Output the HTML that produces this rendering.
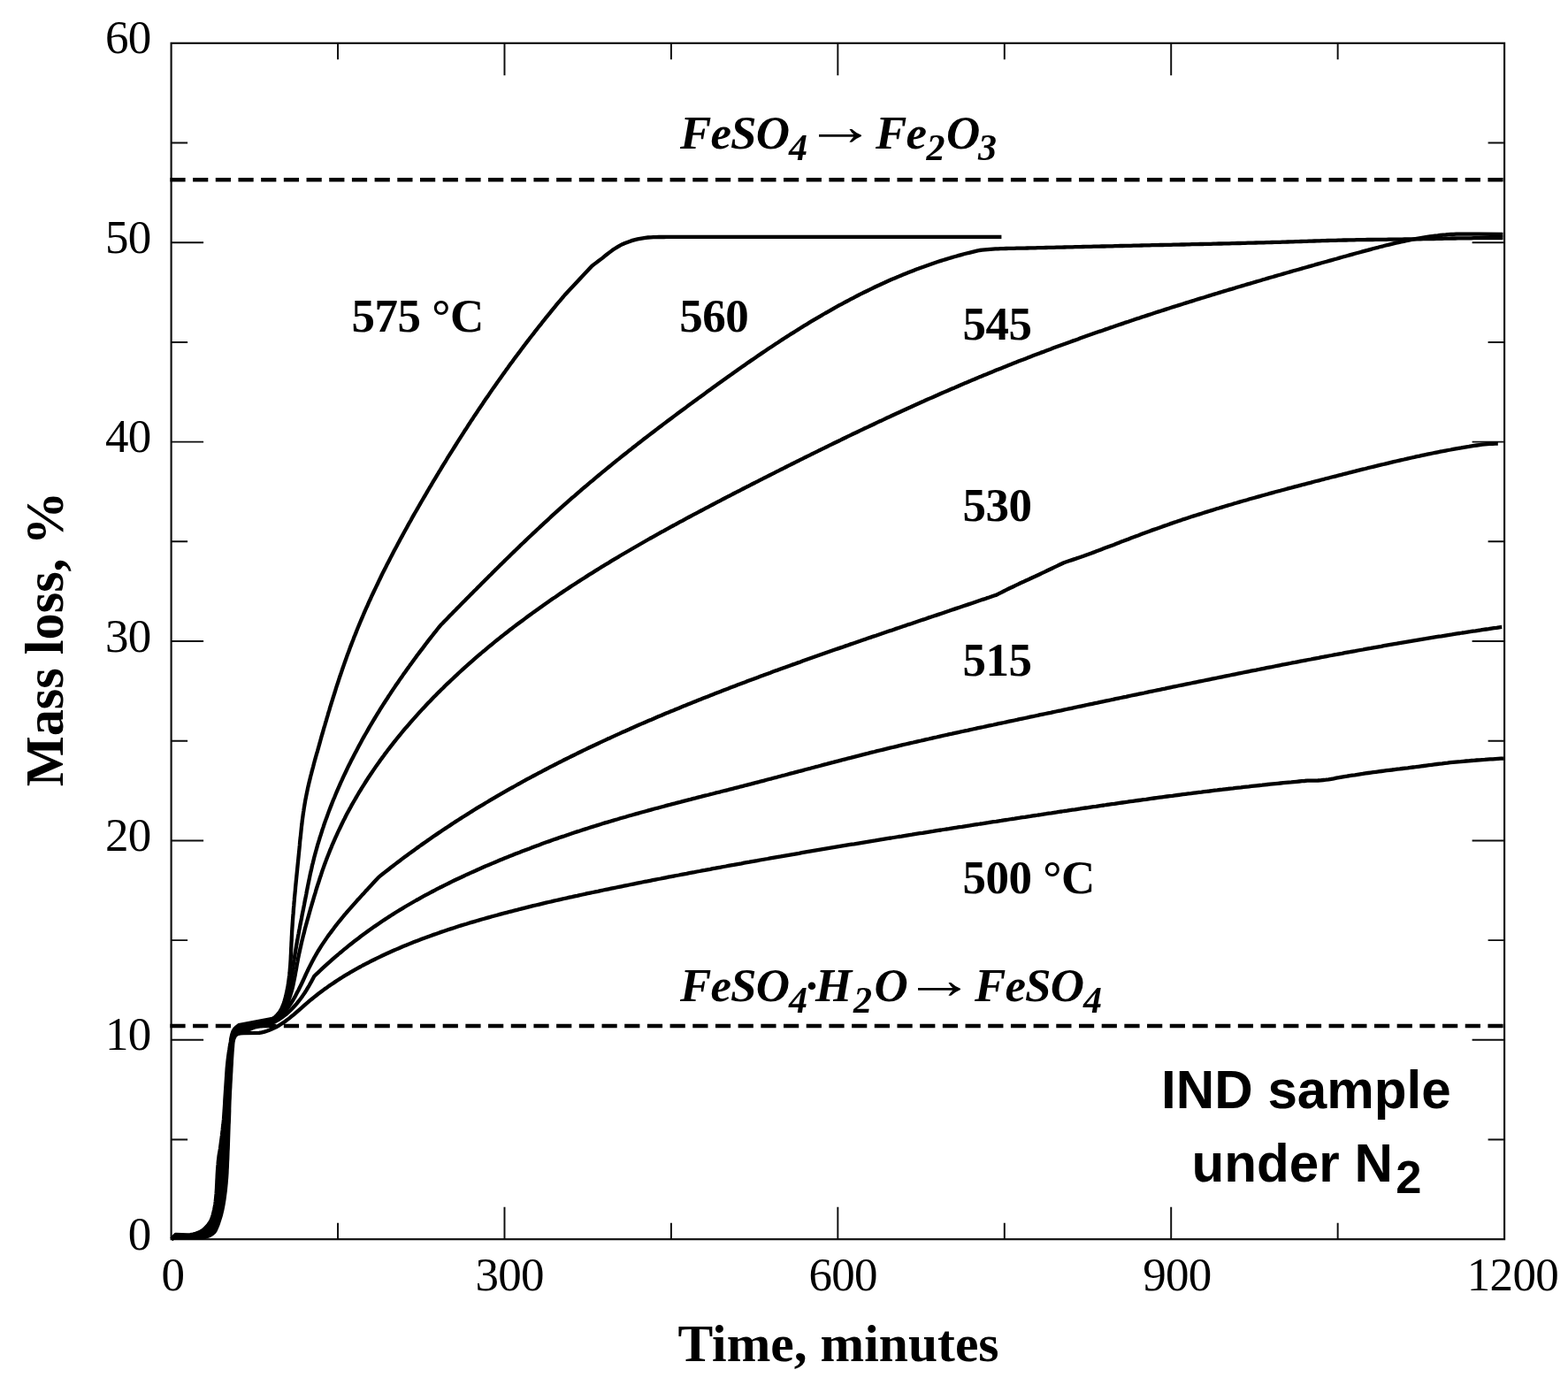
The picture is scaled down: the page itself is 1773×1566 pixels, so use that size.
<!DOCTYPE html>
<html lang="en">
<head>
<meta charset="utf-8">
<title>Mass loss vs time</title>
<style>
html,body{margin:0;padding:0;background:#fff;}
body{width:1773px;height:1566px;overflow:hidden;}
svg{display:block;}
</style>
</head>
<body>
<svg width="1773" height="1566" viewBox="0 0 1773 1566">
<rect x="193.6" y="48.8" width="1507.50" height="1352.40" fill="none" stroke="#0d0d0d" stroke-width="2.15"/>
<path d="M382.04 1401.2v-18.5M382.04 48.8v18.5M570.48 1401.2v-36.5M570.48 48.8v36.5M758.91 1401.2v-18.5M758.91 48.8v18.5M947.35 1401.2v-36.5M947.35 48.8v36.5M1135.79 1401.2v-18.5M1135.79 48.8v18.5M1324.22 1401.2v-36.5M1324.22 48.8v36.5M1512.66 1401.2v-18.5M1512.66 48.8v18.5M193.6 1288.50h18.5M1701.1 1288.50h-18.5M193.6 1175.80h36.5M1701.1 1175.80h-36.5M193.6 1063.10h18.5M1701.1 1063.10h-18.5M193.6 950.40h36.5M1701.1 950.40h-36.5M193.6 837.70h18.5M1701.1 837.70h-18.5M193.6 725.00h36.5M1701.1 725.00h-36.5M193.6 612.30h18.5M1701.1 612.30h-18.5M193.6 499.60h36.5M1701.1 499.60h-36.5M193.6 386.90h18.5M1701.1 386.90h-18.5M193.6 274.20h36.5M1701.1 274.20h-36.5M193.6 161.50h18.5M1701.1 161.50h-18.5" fill="none" stroke="#0d0d0d" stroke-width="1.95"/>
<path d="M194 1400.8L198.5 1399L228.5 1399.3L232 1398.8L235.2 1397.8L238 1396.5L240.4 1394.9L242.4 1393.2L243.9 1390.8L245.1 1387.9L246.3 1385.1L247.3 1382.2L248.2 1379.3L249.1 1376.5L250 1373.6L250.7 1370.6L251.4 1367.7L252 1364.7L252.5 1361.8L253 1358.8L253.5 1355.8L253.9 1352.8L254.3 1349.8L254.7 1346.8L255 1343.8L255.3 1340.8L255.6 1337.8L255.8 1334.8L256.1 1331.8L256.3 1328.8L256.5 1325.8L256.6 1322.7L256.8 1319.7L256.9 1316.7L257 1313.7L257.2 1310.7L257.3 1307.7L257.4 1304.6L257.5 1301.6L257.7 1298.6L257.8 1295.6L257.9 1292.6L258 1289.6L258.1 1286.5L258.2 1283.5L258.3 1280.5L258.4 1277.5L258.5 1274.5L258.6 1271.5L258.8 1268.4L258.9 1265.4L259 1262.4L259.1 1259.4L259.2 1256.4L259.2 1253.4L259.3 1250.3L259.4 1247.3L259.5 1244.3L259.7 1241.3L259.8 1238.3L259.9 1235.3L260.1 1232.2L260.3 1229.2L260.4 1226.2L260.6 1223.2L260.8 1220.2L260.9 1217.2L261.1 1214.1L261.3 1211.1L261.4 1208.1L261.6 1205.1L261.8 1202.1L261.9 1199.1L262.1 1196.1L262.3 1193L262.5 1190L262.7 1187L263 1184L263.2 1181L263.5 1178L264.3 1174.6L265.7 1171.5L268.2 1169.2L271.5 1168.4L275 1168.2L293 1167.9L296 1167.3L299 1166.6L301.8 1165.7L304.6 1164.7L307.4 1163.6L310 1162.4L312.7 1161L315.2 1159.6L317.7 1158L320.2 1156.4L322.6 1154.7L325 1152.9L327.4 1151.1L329.7 1149.2L332 1147.3L334.3 1145.3L336.6 1143.3L338.9 1141.3L341.2 1139.3L343.4 1137.3L345.7 1135.3L348 1133.4L350.3 1131.4L352.7 1129.5L355 1127.6L357.4 1125.7L359.8 1123.8L362.2 1122L364.6 1120.2L367 1118.4L369.5 1116.7L371.9 1114.9L374.4 1113.2L376.9 1111.6L379.4 1109.9L381.9 1108.2L384.4 1106.6L387 1105L389.5 1103.4L392.1 1101.9L394.7 1100.4L397.2 1098.8L399.8 1097.3L402.4 1095.9L405.1 1094.4L407.7 1093L410.3 1091.5L413 1090.1L415.7 1088.8L418.3 1087.4L421 1086L423.7 1084.7L426.4 1083.4L429.1 1082.1L431.8 1080.8L434.5 1079.5L437.2 1078.3L440 1077L442.7 1075.8L445.5 1074.6L448.2 1073.4L451 1072.2L453.7 1071L456.5 1069.8L459.3 1068.7L462.1 1067.6L464.8 1066.4L467.6 1065.3L470.4 1064.2L473.2 1063.2L476.1 1062.1L478.9 1061L481.7 1060L484.5 1058.9L487.3 1057.9L490.2 1056.9L493 1055.9L495.8 1054.9L498.7 1053.9L501.5 1053L504.4 1052L507.2 1051L510.1 1050.1L513 1049.2L515.8 1048.3L518.7 1047.3L521.6 1046.4L524.5 1045.5L527.3 1044.7L530.2 1043.8L533.1 1042.9L536 1042.1L538.9 1041.2L541.8 1040.4L544.7 1039.5L547.6 1038.7L550.5 1037.9L553.4 1037.1L556.3 1036.3L559.2 1035.5L562.1 1034.7L565 1033.9L567.9 1033.1L570.8 1032.3L573.7 1031.6L576.6 1030.8L579.6 1030.1L582.5 1029.3L585.4 1028.6L588.3 1027.8L591.2 1027.1L594.1 1026.4L597.1 1025.6L600 1024.9L602.9 1024.2L605.8 1023.5L608.8 1022.8L611.7 1022.1L614.6 1021.4L617.5 1020.7L620.5 1020L623.4 1019.4L626.3 1018.7L629.2 1018L632.2 1017.3L635.1 1016.7L638 1016L641 1015.4L643.9 1014.7L646.8 1014.1L649.8 1013.4L652.7 1012.8L655.6 1012.1L658.6 1011.5L661.5 1010.9L664.4 1010.2L667.4 1009.6L670.3 1009L673.3 1008.4L676.2 1007.8L679.1 1007.1L682.1 1006.5L685 1005.9L688 1005.3L690.9 1004.7L693.9 1004.1L696.8 1003.5L699.7 1002.9L702.7 1002.3L705.6 1001.7L708.6 1001.1L711.5 1000.5L714.5 999.9L717.4 999.3L720.4 998.7L723.3 998.1L726.2 997.5L729.2 996.9L732.1 996.4L735.1 995.8L738 995.2L741 994.6L743.9 994L746.9 993.5L749.8 992.9L752.8 992.3L755.7 991.7L758.7 991.2L761.6 990.6L764.6 990L767.5 989.5L770.5 988.9L773.4 988.3L776.4 987.8L779.4 987.2L782.3 986.6L785.3 986.1L788.2 985.5L791.2 985L794.1 984.4L797.1 983.9L800 983.3L803 982.8L805.9 982.2L808.9 981.7L811.9 981.1L814.8 980.6L817.8 980L820.7 979.5L823.7 978.9L826.6 978.4L829.6 977.9L832.6 977.3L835.5 976.8L838.5 976.3L841.4 975.7L844.4 975.2L847.4 974.7L850.3 974.1L853.3 973.6L856.2 973.1L859.2 972.5L862.2 972L865.1 971.5L868.1 971L871 970.4L874 969.9L877 969.4L879.9 968.9L882.9 968.4L885.9 967.8L888.8 967.3L891.8 966.8L894.7 966.3L897.7 965.8L900.7 965.3L903.6 964.8L906.6 964.2L909.6 963.7L912.5 963.2L915.5 962.7L918.5 962.2L921.4 961.7L924.4 961.2L927.4 960.7L930.3 960.2L933.3 959.7L936.3 959.2L939.2 958.7L942.2 958.2L945.2 957.7L948.1 957.2L951.1 956.7L954.1 956.2L957 955.7L960 955.2L963 954.7L965.9 954.3L968.9 953.8L971.9 953.3L974.8 952.8L977.8 952.3L980.8 951.8L983.7 951.3L986.7 950.8L989.7 950.4L992.7 949.9L995.6 949.4L998.6 948.9L1001.6 948.4L1004.5 947.9L1007.5 947.5L1010.5 947L1013.4 946.5L1016.4 946L1019.4 945.6L1022.4 945.1L1025.3 944.6L1028.3 944.1L1031.3 943.7L1034.2 943.2L1037.2 942.7L1040.2 942.2L1043.2 941.8L1046.1 941.3L1049.1 940.8L1052.1 940.3L1055 939.9L1058 939.4L1061 938.9L1064 938.5L1066.9 938L1069.9 937.5L1072.9 937.1L1075.8 936.6L1078.8 936.1L1081.8 935.7L1084.8 935.2L1087.7 934.8L1090.7 934.3L1093.7 933.8L1096.7 933.4L1099.6 932.9L1102.6 932.4L1105.6 932L1108.5 931.5L1111.5 931.1L1114.5 930.6L1117.5 930.2L1120.4 929.7L1123.4 929.2L1126.4 928.8L1129.4 928.3L1132.3 927.9L1135.3 927.4L1138.3 927L1141.2 926.5L1144.2 926L1147.2 925.6L1150.2 925.1L1153.1 924.7L1156.1 924.2L1159.1 923.8L1162.1 923.3L1165 922.9L1168 922.4L1171 922L1174 921.5L1176.9 921.1L1179.9 920.6L1182.9 920.2L1185.8 919.7L1188.8 919.3L1191.8 918.8L1194.8 918.4L1197.7 917.9L1200.7 917.5L1203.7 917L1206.7 916.6L1209.6 916.1L1212.6 915.7L1215.6 915.3L1218.6 914.8L1221.5 914.4L1224.5 913.9L1227.5 913.5L1230.4 913.1L1233.4 912.6L1236.4 912.2L1239.4 911.8L1242.3 911.3L1245.3 910.9L1248.3 910.5L1251.3 910L1254.2 909.6L1257.2 909.2L1260.2 908.8L1263.2 908.3L1266.1 907.9L1269.1 907.5L1272.1 907.1L1275.1 906.7L1278.1 906.2L1281 905.8L1284 905.4L1287 905L1290 904.6L1292.9 904.2L1295.9 903.8L1298.9 903.3L1301.9 902.9L1304.9 902.5L1307.8 902.1L1310.8 901.7L1313.8 901.3L1316.8 900.9L1319.7 900.5L1322.7 900.1L1325.7 899.8L1328.7 899.4L1331.7 899L1334.6 898.6L1337.6 898.2L1340.6 897.8L1343.6 897.4L1346.6 897.1L1349.6 896.7L1352.5 896.3L1355.5 895.9L1358.5 895.6L1361.5 895.2L1364.5 894.8L1367.5 894.5L1370.4 894.1L1373.4 893.7L1376.4 893.4L1379.4 893L1382.4 892.7L1385.4 892.3L1388.3 892L1391.3 891.6L1394.3 891.3L1397.3 890.9L1400.3 890.6L1403.3 890.3L1406.3 889.9L1409.3 889.6L1412.2 889.3L1415.2 888.9L1418.2 888.6L1421.2 888.3L1424.2 888L1427.2 887.7L1430.2 887.3L1433.2 887L1436.2 886.7L1439.2 886.4L1442.2 886.1L1445.1 885.8L1448.1 885.5L1451.1 885.2L1454.1 884.9L1457.1 884.6L1460.1 884.4L1463.1 884.1L1466.1 883.8L1469.1 883.5L1472.1 883.2L1475.1 883L1478.1 882.7L1481.1 882.7L1484.1 882.6L1487.2 882.6L1490.2 882.5L1493.2 882.3L1496.2 882L1499.2 881.7L1502.2 881.3L1505.2 880.8L1508.1 880.3L1511.1 879.7L1514.1 879.2L1517.1 878.6L1520 878.1L1523 877.7L1526 877.2L1529 876.7L1532 876.3L1535 875.8L1537.9 875.3L1540.9 874.9L1543.9 874.4L1546.9 874L1549.9 873.6L1552.9 873.2L1555.9 872.8L1558.9 872.4L1561.9 872L1564.9 871.6L1567.9 871.2L1570.9 870.8L1573.9 870.5L1576.9 870.1L1579.9 869.7L1582.8 869.4L1585.8 869L1588.8 868.6L1591.8 868.3L1594.8 867.9L1597.8 867.5L1600.8 867.2L1603.8 866.8L1606.8 866.4L1609.8 866L1612.8 865.6L1615.8 865.2L1618.8 864.8L1621.8 864.4L1624.8 864L1627.8 863.6L1630.8 863.3L1633.8 862.9L1636.8 862.6L1639.8 862.2L1642.8 861.9L1645.8 861.6L1648.8 861.3L1651.8 861.1L1654.8 860.8L1657.8 860.5L1660.8 860.3L1663.8 860L1666.8 859.8L1669.8 859.5L1672.9 859.3L1675.9 859.1L1678.9 858.9L1681.9 858.6L1684.9 858.4L1687.9 858.3L1690.9 858.1L1694 857.9L1697 857.7L1700 857.6" fill="none" stroke="#000" stroke-width="4.3" stroke-linejoin="round" stroke-linecap="butt"/>
<path d="M194 1400.8L198.5 1398.5L225.2 1398.8L228.6 1398.3L231.7 1397.4L234.5 1396.1L237 1394.6L239.2 1393L241 1390.8L242.6 1388L243.9 1385.3L245.1 1382.5L246.2 1379.7L247.2 1376.8L248.1 1373.9L248.8 1371L249.5 1368L250.1 1365.1L250.6 1362.1L251.1 1359.1L251.5 1356.1L252 1353.1L252.3 1350.1L252.7 1347.1L253 1344.1L253.3 1341.1L253.5 1338.1L253.7 1335.1L253.9 1332L254.1 1329L254.3 1326L254.5 1323L254.7 1319.9L254.8 1316.9L255 1313.9L255.1 1310.9L255.3 1307.9L255.5 1304.8L255.7 1301.8L255.9 1298.8L256.1 1295.8L256.3 1292.8L256.4 1289.7L256.6 1286.7L256.7 1283.7L256.9 1280.7L257 1277.7L257.2 1274.6L257.4 1271.6L257.5 1268.6L257.7 1265.6L257.8 1262.5L257.9 1259.5L258 1256.5L258.1 1253.5L258.2 1250.5L258.4 1247.4L258.5 1244.4L258.6 1241.4L258.8 1238.4L258.9 1235.3L259.1 1232.3L259.3 1229.3L259.4 1226.3L259.6 1223.3L259.8 1220.2L260 1217.2L260.1 1214.2L260.3 1211.2L260.5 1208.2L260.7 1205.1L260.9 1202.1L261.1 1199.1L261.3 1196.1L261.5 1193.1L261.8 1190L262 1187L262.3 1184L262.6 1181L263 1178L263.5 1175L264.4 1172.2L265.8 1169.4L267.9 1167.4L270.7 1166.1L273.6 1165.5L276.6 1165.1L279.6 1164.7L282.5 1163.8L285.3 1162.6L288.1 1161.5L291 1160.8L294 1160.3L297 1159.9L300 1159.7L303 1158.7L305.9 1157.6L308.7 1156.3L311.5 1154.9L314.2 1153.4L316.8 1151.7L319.3 1150L321.8 1148.1L324.2 1146.2L326.5 1144.1L328.8 1142L331 1139.8L333.1 1137.5L335.2 1135.1L337.2 1132.7L339.1 1130.2L341 1127.7L342.8 1125.1L344.6 1122.5L346.3 1119.9L347.9 1117.2L349.5 1114.5L351 1111.8L352.5 1109.1L353.9 1106.4L355.3 1103.7L357.5 1101.6L359.7 1099.6L361.9 1097.5L364.1 1095.4L366.3 1093.4L368.5 1091.4L370.7 1089.4L373 1087.4L375.2 1085.4L377.5 1083.4L379.8 1081.4L382.1 1079.5L384.4 1077.5L386.7 1075.6L389 1073.7L391.3 1071.8L393.6 1069.9L396 1068L398.3 1066.2L400.7 1064.3L403.1 1062.5L405.5 1060.7L407.9 1058.8L410.3 1057L412.7 1055.3L415.1 1053.5L417.5 1051.7L420 1050L422.4 1048.3L424.9 1046.6L427.3 1044.9L429.8 1043.2L432.3 1041.5L434.8 1039.9L437.3 1038.2L439.8 1036.6L442.3 1035L444.9 1033.4L447.4 1031.8L449.9 1030.2L452.5 1028.6L455.1 1027.1L457.6 1025.5L460.2 1024L462.8 1022.5L465.4 1021L468 1019.5L470.6 1018L473.2 1016.6L475.8 1015.1L478.4 1013.7L481.1 1012.2L483.7 1010.8L486.4 1009.4L489 1008L491.7 1006.6L494.3 1005.2L497 1003.8L499.7 1002.5L502.4 1001.1L505 999.8L507.7 998.5L510.4 997.1L513.1 995.8L515.8 994.5L518.6 993.2L521.3 992L524 990.7L526.7 989.4L529.4 988.2L532.2 986.9L534.9 985.7L537.7 984.5L540.4 983.2L543.2 982L545.9 980.8L548.7 979.6L551.4 978.4L554.2 977.3L556.9 976.1L559.7 974.9L562.5 973.8L565.3 972.6L568 971.5L570.8 970.3L573.6 969.2L576.4 968.1L579.2 967L582 965.8L584.8 964.7L587.6 963.7L590.4 962.6L593.2 961.5L596 960.4L598.8 959.4L601.6 958.3L604.4 957.2L607.2 956.2L610.1 955.2L612.9 954.1L615.7 953.1L618.5 952.1L621.4 951.1L624.2 950.1L627 949.1L629.9 948.1L632.7 947.1L635.6 946.1L638.4 945.2L641.2 944.2L644.1 943.2L646.9 942.3L649.8 941.3L652.6 940.4L655.5 939.5L658.4 938.5L661.2 937.6L664.1 936.7L666.9 935.8L669.8 934.9L672.7 934L675.5 933.1L678.4 932.2L681.3 931.3L684.1 930.4L687 929.6L689.9 928.7L692.8 927.9L695.7 927L698.5 926.2L701.4 925.3L704.3 924.5L707.2 923.7L710.1 922.8L713 922L715.8 921.2L718.7 920.4L721.6 919.6L724.5 918.8L727.4 918L730.3 917.2L733.2 916.4L736.1 915.6L739 914.8L741.9 914L744.8 913.3L747.7 912.5L750.6 911.7L753.5 910.9L756.4 910.2L759.3 909.4L762.2 908.7L765.1 907.9L768 907.2L770.9 906.4L773.8 905.6L776.7 904.9L779.6 904.2L782.5 903.4L785.4 902.7L788.3 901.9L791.2 901.2L794.1 900.4L797 899.7L800 899L802.9 898.2L805.8 897.5L808.7 896.7L811.6 896L814.5 895.3L817.4 894.5L820.3 893.8L823.2 893.1L826.1 892.3L829 891.6L831.9 890.8L834.9 890.1L837.8 889.3L840.7 888.6L843.6 887.8L846.5 887.1L849.4 886.4L852.3 885.6L855.2 884.8L858.1 884.1L861 883.3L863.9 882.6L866.8 881.8L869.7 881L872.6 880.3L875.5 879.5L878.4 878.8L881.3 878L884.2 877.2L887.1 876.5L890 875.7L892.9 874.9L895.8 874.2L898.7 873.4L901.7 872.6L904.6 871.8L907.5 871.1L910.4 870.3L913.3 869.5L916.2 868.8L919.1 868L922 867.2L924.9 866.5L927.8 865.7L930.7 864.9L933.6 864.2L936.5 863.4L939.4 862.6L942.3 861.9L945.2 861.1L948.1 860.4L951 859.6L953.9 858.8L956.8 858.1L959.7 857.3L962.6 856.6L965.6 855.8L968.5 855.1L971.4 854.4L974.3 853.6L977.2 852.9L980.1 852.2L983 851.4L985.9 850.7L988.8 850L991.8 849.2L994.7 848.5L997.6 847.8L1000.5 847.1L1003.4 846.4L1006.3 845.7L1009.2 845L1012.2 844.3L1015.1 843.6L1018 842.9L1020.9 842.2L1023.9 841.5L1026.8 840.8L1029.7 840.1L1032.6 839.5L1035.5 838.8L1038.5 838.1L1041.4 837.5L1044.3 836.8L1047.2 836.1L1050.2 835.5L1053.1 834.8L1056 834.1L1059 833.5L1061.9 832.8L1064.8 832.2L1067.7 831.5L1070.7 830.9L1073.6 830.2L1076.5 829.6L1079.5 828.9L1082.4 828.3L1085.3 827.7L1088.3 827L1091.2 826.4L1094.1 825.8L1097.1 825.1L1100 824.5L1102.9 823.9L1105.9 823.2L1108.8 822.6L1111.7 822L1114.7 821.3L1117.6 820.7L1120.5 820.1L1123.5 819.5L1126.4 818.8L1129.3 818.2L1132.3 817.6L1135.2 817L1138.2 816.3L1141.1 815.7L1144 815.1L1147 814.5L1149.9 813.9L1152.8 813.2L1155.8 812.6L1158.7 812L1161.6 811.4L1164.6 810.7L1167.5 810.1L1170.5 809.5L1173.4 808.9L1176.3 808.2L1179.3 807.6L1182.2 807L1185.1 806.4L1188.1 805.8L1191 805.1L1194 804.5L1196.9 803.9L1199.8 803.3L1202.8 802.6L1205.7 802L1208.6 801.4L1211.6 800.8L1214.5 800.2L1217.4 799.5L1220.4 798.9L1223.3 798.3L1226.3 797.7L1229.2 797L1232.1 796.4L1235.1 795.8L1238 795.2L1240.9 794.6L1243.9 793.9L1246.8 793.3L1249.8 792.7L1252.7 792.1L1255.6 791.5L1258.6 790.9L1261.5 790.2L1264.5 789.6L1267.4 789L1270.3 788.4L1273.3 787.8L1276.2 787.1L1279.1 786.5L1282.1 785.9L1285 785.3L1288 784.7L1290.9 784.1L1293.8 783.5L1296.8 782.8L1299.7 782.2L1302.7 781.6L1305.6 781L1308.5 780.4L1311.5 779.8L1314.4 779.2L1317.4 778.6L1320.3 777.9L1323.2 777.3L1326.2 776.7L1329.1 776.1L1332 775.5L1335 774.9L1337.9 774.3L1340.9 773.7L1343.8 773.1L1346.8 772.5L1349.7 771.9L1352.6 771.3L1355.6 770.7L1358.5 770.1L1361.5 769.5L1364.4 768.9L1367.3 768.3L1370.3 767.7L1373.2 767.1L1376.2 766.5L1379.1 765.9L1382 765.3L1385 764.7L1387.9 764.1L1390.9 763.5L1393.8 762.9L1396.8 762.3L1399.7 761.7L1402.6 761.1L1405.6 760.5L1408.5 759.9L1411.5 759.3L1414.4 758.7L1417.4 758.1L1420.3 757.6L1423.2 757L1426.2 756.4L1429.1 755.8L1432.1 755.2L1435 754.6L1438 754.1L1440.9 753.5L1443.9 752.9L1446.8 752.3L1449.7 751.7L1452.7 751.2L1455.6 750.6L1458.6 750L1461.5 749.4L1464.5 748.9L1467.4 748.3L1470.4 747.7L1473.3 747.2L1476.3 746.6L1479.2 746L1482.2 745.5L1485.1 744.9L1488.1 744.3L1491 743.8L1494 743.2L1496.9 742.7L1499.9 742.1L1502.8 741.5L1505.7 741L1508.7 740.4L1511.6 739.9L1514.6 739.3L1517.6 738.8L1520.5 738.2L1523.5 737.7L1526.4 737.2L1529.4 736.6L1532.3 736.1L1535.3 735.5L1538.2 735L1541.2 734.5L1544.1 733.9L1547.1 733.4L1550 732.9L1553 732.3L1555.9 731.8L1558.9 731.3L1561.8 730.8L1564.8 730.2L1567.8 729.7L1570.7 729.2L1573.7 728.7L1576.6 728.2L1579.6 727.7L1582.5 727.1L1585.5 726.6L1588.5 726.1L1591.4 725.6L1594.4 725.1L1597.3 724.6L1600.3 724.1L1603.3 723.6L1606.2 723.1L1609.2 722.6L1612.1 722.2L1615.1 721.7L1618.1 721.2L1621 720.7L1624 720.2L1627 719.7L1629.9 719.3L1632.9 718.8L1635.8 718.3L1638.8 717.8L1641.8 717.4L1644.7 716.9L1647.7 716.4L1650.7 716L1653.6 715.5L1656.6 715.1L1659.6 714.6L1662.5 714.2L1665.5 713.7L1668.5 713.3L1671.5 712.8L1674.4 712.4L1677.4 711.9L1680.4 711.5L1683.3 711.1L1686.3 710.6L1689.3 710.2L1692.3 709.8L1695.2 709.3L1698.2 708.9" fill="none" stroke="#000" stroke-width="4.3" stroke-linejoin="round" stroke-linecap="butt"/>
<path d="M194 1400.8L198.5 1398L221.9 1398.3L225.2 1397.8L228.3 1397L231.1 1395.8L233.7 1394.4L236 1392.9L238.1 1390.8L239.9 1388.2L241.5 1385.6L242.9 1382.9L244.2 1380.1L245.2 1377.3L246.1 1374.4L246.9 1371.4L247.5 1368.5L248.1 1365.5L248.7 1362.5L249.2 1359.5L249.6 1356.5L250 1353.5L250.3 1350.5L250.7 1347.5L250.9 1344.5L251.2 1341.4L251.4 1338.4L251.6 1335.4L251.8 1332.4L252 1329.3L252.2 1326.3L252.4 1323.3L252.6 1320.2L252.7 1317.2L252.9 1314.2L253.1 1311.2L253.3 1308.1L253.6 1305.1L253.9 1302.1L254.1 1299.1L254.4 1296L254.6 1293L254.9 1290L255.1 1287L255.3 1283.9L255.5 1280.9L255.7 1277.9L255.9 1274.9L256.1 1271.8L256.3 1268.8L256.5 1265.8L256.7 1262.7L256.8 1259.7L256.9 1256.7L257 1253.6L257.2 1250.6L257.3 1247.6L257.4 1244.5L257.6 1241.5L257.8 1238.5L257.9 1235.5L258.1 1232.4L258.3 1229.4L258.5 1226.4L258.6 1223.3L258.8 1220.3L259 1217.3L259.2 1214.3L259.3 1211.2L259.5 1208.2L259.7 1205.2L260 1202.1L260.2 1199.1L260.5 1196.1L260.7 1193.1L261 1190.1L261.3 1187L261.7 1184L262 1181L262.4 1178L262.7 1174.8L263.4 1171.8L264.4 1168.8L266 1166L268.4 1164.6L271.5 1163.7L274.5 1163L277.6 1162.5L280.7 1161.8L283.7 1161L286.6 1160.1L289.6 1159.3L292.7 1158.7L295.8 1158.3L298.8 1157.8L301.9 1157.2L305 1156.6L308 1156L310.6 1154.3L313 1152.5L315.2 1150.6L317.4 1148.6L319.5 1146.5L321.5 1144.3L323.4 1142.1L325.2 1139.8L327 1137.4L328.6 1135L330.2 1132.5L331.8 1130L333.3 1127.4L334.7 1124.8L336.1 1122.1L337.5 1119.5L338.8 1116.8L340.2 1114L341.5 1111.3L342.8 1108.5L344 1105.8L345.3 1103L346.6 1100.2L347.9 1097.5L349.2 1094.7L350.6 1092L352 1089.3L353.4 1086.6L354.8 1083.9L356.3 1081.3L357.8 1078.6L359.3 1076L360.9 1073.5L362.5 1070.9L364.1 1068.4L365.8 1065.9L367.5 1063.4L369.2 1060.9L370.9 1058.4L372.7 1056L374.5 1053.6L376.3 1051.2L378.1 1048.8L379.9 1046.4L381.8 1044L383.7 1041.7L385.6 1039.4L387.5 1037L389.4 1034.7L391.4 1032.4L393.3 1030.1L395.3 1027.9L397.3 1025.6L399.3 1023.3L401.3 1021.1L403.3 1018.8L405.4 1016.6L407.4 1014.3L409.4 1012.1L411.5 1009.9L413.5 1007.6L415.6 1005.4L417.6 1003.2L419.7 1001L421.7 998.8L423.8 996.5L425.9 994.3L427.9 992.1L430.2 990.2L432.6 988.3L435 986.4L437.4 984.5L439.7 982.7L442.1 980.8L444.5 979L446.9 977.1L449.3 975.3L451.7 973.5L454.1 971.6L456.5 969.8L459 968L461.4 966.2L463.8 964.4L466.2 962.7L468.7 960.9L471.1 959.1L473.6 957.4L476 955.6L478.5 953.9L480.9 952.2L483.4 950.4L485.9 948.7L488.3 947L490.8 945.3L493.3 943.6L495.8 941.9L498.3 940.2L500.8 938.5L503.3 936.9L505.8 935.2L508.3 933.6L510.8 931.9L513.3 930.3L515.8 928.6L518.4 927L520.9 925.4L523.4 923.8L525.9 922.2L528.5 920.6L531 919L533.6 917.4L536.1 915.8L538.7 914.2L541.2 912.7L543.8 911.1L546.4 909.6L548.9 908L551.5 906.5L554.1 904.9L556.7 903.4L559.3 901.9L561.8 900.4L564.4 898.9L567 897.4L569.6 895.9L572.2 894.4L574.8 892.9L577.4 891.4L580.1 890L582.7 888.5L585.3 887L587.9 885.6L590.5 884.1L593.2 882.7L595.8 881.2L598.4 879.8L601.1 878.4L603.7 877L606.4 875.6L609 874.2L611.7 872.8L614.3 871.4L617 870L619.6 868.6L622.3 867.2L625 865.8L627.6 864.5L630.3 863.1L633 861.7L635.7 860.4L638.3 859L641 857.7L643.7 856.4L646.4 855L649.1 853.7L651.8 852.4L654.5 851L657.2 849.7L659.9 848.4L662.6 847.1L665.3 845.8L668 844.5L670.7 843.2L673.4 842L676.1 840.7L678.9 839.4L681.6 838.1L684.3 836.9L687 835.6L689.8 834.4L692.5 833.1L695.2 831.9L698 830.6L700.7 829.4L703.4 828.1L706.2 826.9L708.9 825.7L711.7 824.5L714.4 823.2L717.2 822L719.9 820.8L722.7 819.6L725.4 818.4L728.2 817.2L731 816L733.7 814.8L736.5 813.7L739.3 812.5L742 811.3L744.8 810.1L747.6 809L750.3 807.8L753.1 806.6L755.9 805.5L758.7 804.3L761.5 803.2L764.2 802L767 800.9L769.8 799.7L772.6 798.6L775.4 797.5L778.2 796.3L781 795.2L783.8 794.1L786.6 792.9L789.4 791.8L792.2 790.7L795 789.6L797.8 788.5L800.6 787.4L803.4 786.3L806.2 785.2L809 784.1L811.8 783L814.6 781.9L817.4 780.8L820.2 779.7L823 778.7L825.8 777.6L828.6 776.5L831.5 775.4L834.3 774.3L837.1 773.3L839.9 772.2L842.7 771.2L845.5 770.1L848.4 769L851.2 768L854 766.9L856.8 765.9L859.7 764.8L862.5 763.8L865.3 762.7L868.2 761.7L871 760.7L873.8 759.6L876.6 758.6L879.5 757.6L882.3 756.5L885.1 755.5L888 754.5L890.8 753.4L893.6 752.4L896.5 751.4L899.3 750.4L902.2 749.4L905 748.4L907.8 747.3L910.7 746.3L913.5 745.3L916.4 744.3L919.2 743.3L922 742.3L924.9 741.3L927.7 740.3L930.6 739.3L933.4 738.3L936.3 737.3L939.1 736.3L941.9 735.3L944.8 734.3L947.6 733.4L950.5 732.4L953.3 731.4L956.2 730.4L959 729.4L961.9 728.4L964.7 727.5L967.6 726.5L970.4 725.5L973.3 724.5L976.1 723.5L979 722.6L981.8 721.6L984.7 720.6L987.5 719.6L990.4 718.7L993.2 717.7L996.1 716.7L998.9 715.8L1001.8 714.8L1004.6 713.8L1007.5 712.9L1010.3 711.9L1013.2 710.9L1016 710L1018.9 709L1021.7 708L1024.6 707.1L1027.4 706.1L1030.3 705.2L1033.1 704.2L1036 703.2L1038.8 702.3L1041.7 701.3L1044.5 700.4L1047.3 699.4L1050.2 698.4L1053 697.5L1055.9 696.5L1058.7 695.6L1061.6 694.6L1064.4 693.7L1067.3 692.7L1070.1 691.7L1073 690.8L1075.8 689.8L1078.6 688.9L1081.5 687.9L1084.3 687L1087.2 686L1090 685L1092.8 684.1L1095.7 683.1L1098.5 682.2L1101.4 681.2L1104.2 680.2L1107 679.3L1109.9 678.3L1112.7 677.4L1115.5 676.4L1118.4 675.5L1121.2 674.5L1124 673.5L1126.9 672.6L1129.6 671.2L1132.3 669.8L1134.9 668.5L1137.6 667.1L1140.3 665.8L1143 664.5L1145.8 663.2L1148.5 661.9L1151.2 660.6L1153.9 659.3L1156.7 658.1L1159.4 656.8L1162.2 655.6L1164.9 654.3L1167.6 653L1170.4 651.8L1173.1 650.5L1175.8 649.2L1178.5 647.9L1181.3 646.6L1184 645.3L1186.7 644L1189.4 642.7L1192.1 641.4L1194.9 640.1L1197.6 638.8L1200.3 637.5L1203 636.2L1205.8 635.3L1208.7 634.3L1211.5 633.4L1214.4 632.4L1217.2 631.4L1220 630.5L1222.9 629.5L1225.7 628.5L1228.5 627.4L1231.3 626.4L1234.1 625.4L1237 624.4L1239.8 623.3L1242.6 622.3L1245.4 621.2L1248.2 620.1L1251 619.1L1253.8 618L1256.7 616.9L1259.5 615.9L1262.3 614.8L1265.1 613.7L1267.9 612.6L1270.7 611.6L1273.5 610.5L1276.3 609.4L1279.1 608.3L1281.9 607.3L1284.7 606.2L1287.6 605.2L1290.4 604.1L1293.2 603L1296 602L1298.8 601L1301.6 599.9L1304.5 598.9L1307.3 597.9L1310.1 596.9L1312.9 595.9L1315.8 594.9L1318.6 593.9L1321.4 592.9L1324.3 591.9L1327.1 590.9L1330 590L1332.8 589L1335.7 588.1L1338.5 587.1L1341.3 586.2L1344.2 585.2L1347 584.3L1349.9 583.4L1352.8 582.5L1355.6 581.6L1358.5 580.7L1361.3 579.8L1364.2 578.9L1367 578L1369.9 577.1L1372.8 576.2L1375.6 575.3L1378.5 574.5L1381.4 573.6L1384.2 572.7L1387.1 571.9L1390 571L1392.9 570.2L1395.7 569.3L1398.6 568.5L1401.5 567.6L1404.4 566.8L1407.3 566L1410.1 565.2L1413 564.3L1415.9 563.5L1418.8 562.7L1421.7 561.9L1424.6 561.1L1427.5 560.3L1430.4 559.5L1433.2 558.7L1436.1 557.9L1439 557.1L1441.9 556.3L1444.8 555.5L1447.7 554.8L1450.6 554L1453.5 553.2L1456.4 552.4L1459.3 551.7L1462.2 550.9L1465.1 550.1L1468 549.4L1470.9 548.6L1473.8 547.8L1476.7 547.1L1479.6 546.3L1482.5 545.6L1485.4 544.8L1488.3 544L1491.2 543.3L1494.2 542.5L1497.1 541.8L1500 541L1502.9 540.3L1505.8 539.5L1508.7 538.8L1511.6 538.1L1514.5 537.3L1517.4 536.6L1520.3 535.8L1523.3 535.1L1526.2 534.3L1529.1 533.6L1532 532.9L1534.9 532.1L1537.8 531.4L1540.7 530.7L1543.7 530L1546.6 529.2L1549.5 528.5L1552.4 527.8L1555.3 527.1L1558.2 526.4L1561.2 525.7L1564.1 525L1567 524.3L1569.9 523.6L1572.9 522.9L1575.8 522.2L1578.7 521.5L1581.6 520.8L1584.6 520.1L1587.5 519.5L1590.4 518.8L1593.3 518.2L1596.3 517.5L1599.2 516.9L1602.1 516.2L1605.1 515.6L1608 514.9L1610.9 514.3L1613.9 513.7L1616.8 513.1L1619.7 512.5L1622.7 511.9L1625.6 511.3L1628.6 510.7L1631.5 510.2L1634.5 509.6L1637.4 509L1640.3 508.5L1643.3 507.9L1646.2 507.4L1649.2 506.9L1652.1 506.4L1655.1 505.8L1658.1 505.3L1661 504.9L1664 504.4L1666.9 503.9L1669.9 503.5L1672.9 503.1L1675.8 502.7L1678.8 502.4L1681.8 502.1L1684.8 501.9L1687.8 501.8L1690.8 501.7L1693.8 501.7" fill="none" stroke="#000" stroke-width="4.3" stroke-linejoin="round" stroke-linecap="butt"/>
<path d="M194 1400.8L198.5 1397.5L218.6 1397.8L221.8 1397.4L224.9 1396.6L227.7 1395.5L230.3 1394.3L232.8 1392.9L235 1391L237.1 1388.7L238.9 1386.2L240.5 1383.7L241.9 1381L243 1378.2L244 1375.4L244.8 1372.5L245.5 1369.5L246.1 1366.6L246.6 1363.6L247.1 1360.7L247.5 1357.7L247.9 1354.7L248.3 1351.7L248.6 1348.7L248.8 1345.7L249.1 1342.8L249.3 1339.8L249.5 1336.8L249.6 1333.8L249.8 1330.8L250 1327.7L250.2 1324.7L250.4 1321.8L250.5 1318.8L250.8 1315.8L251 1312.8L251.2 1309.8L251.5 1306.8L251.8 1303.8L252.2 1300.8L252.5 1297.8L252.8 1294.8L253.1 1291.8L253.4 1288.8L253.7 1285.8L253.9 1282.8L254.2 1279.9L254.4 1276.9L254.7 1273.9L254.9 1270.9L255.2 1267.9L255.4 1264.9L255.5 1261.9L255.7 1258.9L255.8 1255.9L256 1252.9L256.1 1249.9L256.3 1246.9L256.4 1243.9L256.6 1240.9L256.8 1237.9L257 1234.9L257.1 1231.9L257.3 1228.9L257.5 1225.9L257.7 1222.9L257.9 1219.9L258 1216.9L258.2 1213.9L258.4 1210.9L258.6 1207.9L258.8 1204.9L259.1 1201.9L259.4 1198.9L259.7 1195.9L260 1192.9L260.3 1189.9L260.6 1186.9L261 1184L261.4 1181L261.9 1178L262.1 1174.9L262.7 1172L263.4 1169.1L264.6 1166.1L266.3 1164L269.1 1162.7L272.1 1161.9L275 1161.4L278 1160.9L281 1160.3L283.9 1159.5L286.7 1158.6L289.6 1157.8L292.6 1157.2L295.5 1156.6L298.5 1156L301.4 1155.3L304.3 1154.5L307.2 1153.5L310 1152.5L312.6 1150.8L315 1148.9L317.1 1146.8L319 1144.5L320.7 1142.1L322.2 1139.6L323.6 1137.1L324.9 1134.4L326.1 1131.7L327.1 1128.9L328.1 1126.1L329 1123.2L329.8 1120.4L330.6 1117.4L331.3 1114.5L331.9 1111.6L332.5 1108.6L333.1 1105.6L333.7 1102.6L334.2 1099.6L334.8 1096.6L335.3 1093.6L335.8 1090.6L336.4 1087.6L336.9 1084.6L337.5 1081.7L338.1 1078.7L338.8 1075.8L339.4 1072.8L340.1 1069.9L340.7 1067L341.4 1064.1L342.1 1061.2L342.8 1058.3L343.6 1055.4L344.3 1052.5L345 1049.6L345.8 1046.7L346.6 1043.9L347.4 1041L348.2 1038.1L349 1035.2L349.8 1032.4L350.6 1029.5L351.4 1026.6L352.3 1023.7L353.1 1020.9L354 1018L354.8 1015.1L355.7 1012.2L356.6 1009.3L357.4 1006.4L358.3 1003.5L359.2 1000.7L360.2 997.8L361.1 994.9L362 992L363 989.2L363.9 986.3L364.9 983.4L365.9 980.6L366.9 977.7L368 974.9L369 972.1L370.1 969.3L371.2 966.5L372.3 963.7L373.4 960.9L374.6 958.1L375.7 955.3L376.9 952.6L378.1 949.8L379.3 947.1L380.6 944.3L381.8 941.6L383.1 938.9L384.4 936.2L385.7 933.5L387 930.8L388.3 928.1L389.7 925.5L391 922.8L392.4 920.1L393.8 917.5L395.2 914.9L396.7 912.3L398.1 909.6L399.6 907L401.1 904.5L402.6 901.9L404.1 899.3L405.6 896.7L407.2 894.2L408.7 891.6L410.3 889.1L411.9 886.6L413.5 884L415.1 881.5L416.7 879L418.4 876.5L420.1 874L421.7 871.6L423.4 869.1L425.1 866.6L426.8 864.2L428.6 861.8L430.3 859.3L432.1 856.9L433.9 854.5L435.6 852.1L437.4 849.7L439.2 847.3L441.1 844.9L442.9 842.6L444.8 840.2L446.6 837.9L448.5 835.5L450.4 833.2L452.3 830.9L454.2 828.5L456.1 826.2L458 823.9L460 821.7L462 819.4L463.9 817.1L465.9 814.8L467.9 812.6L469.9 810.3L471.9 808.1L473.9 805.9L476 803.6L478 801.4L480.1 799.2L482.1 797L484.2 794.8L486.3 792.7L488.4 790.5L490.5 788.3L492.6 786.2L494.7 784L496.9 781.9L499 779.8L501.2 777.7L503.3 775.5L505.5 773.4L507.7 771.4L509.9 769.3L512.1 767.2L514.3 765.1L516.5 763.1L518.7 761L520.9 759L523.2 756.9L525.4 754.9L527.7 752.9L529.9 750.9L532.2 748.9L534.5 746.9L536.7 744.9L539 742.9L541.3 740.9L543.6 739L545.9 737L548.3 735.1L550.6 733.1L552.9 731.2L555.3 729.3L557.6 727.3L559.9 725.4L562.3 723.5L564.7 721.6L567 719.8L569.4 717.9L571.8 716L574.1 714.2L576.5 712.3L578.9 710.5L581.3 708.6L583.7 706.8L586.1 705L588.5 703.2L591 701.4L593.4 699.6L595.8 697.8L598.2 696L600.7 694.2L603.1 692.4L605.5 690.7L608 688.9L610.4 687.2L612.9 685.4L615.3 683.7L617.8 682L620.3 680.3L622.7 678.6L625.2 676.8L627.7 675.2L630.2 673.5L632.6 671.8L635.1 670.1L637.6 668.4L640.1 666.8L642.6 665.1L645.1 663.4L647.6 661.8L650.1 660.2L652.7 658.5L655.2 656.9L657.7 655.3L660.2 653.7L662.7 652.1L665.3 650.4L667.8 648.8L670.3 647.3L672.9 645.7L675.4 644.1L678 642.5L680.5 640.9L683.1 639.4L685.6 637.8L688.2 636.3L690.8 634.7L693.3 633.2L695.9 631.6L698.5 630.1L701 628.5L703.6 627L706.2 625.5L708.8 624L711.4 622.5L713.9 621L716.5 619.5L719.1 618L721.7 616.5L724.3 615L726.9 613.5L729.5 612L732.1 610.5L734.7 609L737.3 607.6L740 606.1L742.6 604.6L745.2 603.2L747.8 601.7L750.4 600.3L753 598.8L755.7 597.4L758.3 595.9L760.9 594.5L763.6 593.1L766.2 591.6L768.8 590.2L771.5 588.8L774.1 587.3L776.7 585.9L779.4 584.5L782 583.1L784.7 581.7L787.3 580.3L790 578.9L792.6 577.5L795.3 576.1L797.9 574.7L800.6 573.3L803.2 571.9L805.9 570.5L808.5 569.1L811.2 567.7L813.9 566.3L816.5 564.9L819.2 563.5L821.8 562.1L824.5 560.8L827.2 559.4L829.8 558L832.5 556.6L835.2 555.3L837.9 553.9L840.5 552.5L843.2 551.1L845.9 549.8L848.6 548.4L851.2 547L853.9 545.7L856.6 544.3L859.3 542.9L861.9 541.6L864.6 540.2L867.3 538.9L870 537.5L872.7 536.1L875.3 534.8L878 533.4L880.7 532.1L883.4 530.7L886.1 529.4L888.8 528L891.4 526.7L894.1 525.3L896.8 524L899.5 522.6L902.2 521.3L904.9 519.9L907.6 518.6L910.3 517.2L913 515.9L915.7 514.6L918.4 513.2L921.1 511.9L923.8 510.6L926.5 509.2L929.2 507.9L931.9 506.6L934.6 505.3L937.3 503.9L940 502.6L942.7 501.3L945.4 500L948.1 498.7L950.8 497.4L953.5 496L956.2 494.7L958.9 493.4L961.6 492.1L964.3 490.8L967.1 489.5L969.8 488.2L972.5 486.9L975.2 485.6L977.9 484.3L980.6 483.1L983.4 481.8L986.1 480.5L988.8 479.2L991.5 477.9L994.2 476.6L997 475.4L999.7 474.1L1002.4 472.8L1005.2 471.6L1007.9 470.3L1010.6 469L1013.3 467.8L1016.1 466.5L1018.8 465.2L1021.5 464L1024.3 462.7L1027 461.5L1029.8 460.3L1032.5 459L1035.2 457.8L1038 456.5L1040.7 455.3L1043.5 454.1L1046.2 452.8L1049 451.6L1051.7 450.4L1054.5 449.2L1057.2 448L1060 446.8L1062.7 445.5L1065.5 444.3L1068.2 443.1L1071 441.9L1073.7 440.7L1076.5 439.5L1079.3 438.4L1082 437.2L1084.8 436L1087.6 434.8L1090.3 433.6L1093.1 432.5L1095.9 431.3L1098.6 430.1L1101.4 429L1104.2 427.8L1106.9 426.6L1109.7 425.5L1112.5 424.3L1115.3 423.2L1118.1 422L1120.8 420.9L1123.6 419.8L1126.4 418.6L1129.2 417.5L1132 416.4L1134.8 415.3L1137.5 414.2L1140.3 413L1143.1 411.9L1145.9 410.8L1148.7 409.7L1151.5 408.6L1154.3 407.5L1157.1 406.5L1159.9 405.4L1162.7 404.3L1165.5 403.2L1168.3 402.1L1171.1 401.1L1173.9 400L1176.7 398.9L1179.6 397.9L1182.4 396.8L1185.2 395.7L1188 394.7L1190.8 393.6L1193.6 392.6L1196.4 391.6L1199.3 390.5L1202.1 389.5L1204.9 388.5L1207.7 387.4L1210.5 386.4L1213.4 385.4L1216.2 384.4L1219 383.4L1221.8 382.3L1224.7 381.3L1227.5 380.3L1230.3 379.3L1233.2 378.3L1236 377.3L1238.8 376.3L1241.7 375.3L1244.5 374.4L1247.3 373.4L1250.2 372.4L1253 371.4L1255.9 370.4L1258.7 369.5L1261.5 368.5L1264.4 367.5L1267.2 366.6L1270.1 365.6L1272.9 364.6L1275.8 363.7L1278.6 362.7L1281.5 361.8L1284.3 360.8L1287.2 359.9L1290 358.9L1292.9 358L1295.7 357.1L1298.6 356.1L1301.5 355.2L1304.3 354.3L1307.2 353.3L1310 352.4L1312.9 351.5L1315.7 350.6L1318.6 349.6L1321.5 348.7L1324.3 347.8L1327.2 346.9L1330.1 346L1332.9 345.1L1335.8 344.2L1338.7 343.3L1341.5 342.4L1344.4 341.5L1347.3 340.6L1350.1 339.7L1353 338.8L1355.9 337.9L1358.7 337L1361.6 336.2L1364.5 335.3L1367.4 334.4L1370.2 333.5L1373.1 332.6L1376 331.8L1378.9 330.9L1381.7 330L1384.6 329.1L1387.5 328.3L1390.4 327.4L1393.3 326.6L1396.1 325.7L1399 324.8L1401.9 324L1404.8 323.1L1407.7 322.3L1410.6 321.4L1413.4 320.6L1416.3 319.7L1419.2 318.9L1422.1 318L1425 317.2L1427.9 316.3L1430.7 315.5L1433.6 314.6L1436.5 313.8L1439.4 313L1442.3 312.1L1445.2 311.3L1448.1 310.5L1451 309.6L1453.9 308.8L1456.7 308L1459.6 307.1L1462.5 306.3L1465.4 305.5L1468.3 304.7L1471.2 303.9L1474.1 303L1477 302.2L1479.9 301.4L1482.8 300.6L1485.7 299.8L1488.6 298.9L1491.5 298.1L1494.4 297.3L1497.2 296.5L1500.1 295.7L1503 294.9L1505.9 294.1L1508.8 293.3L1511.7 292.5L1514.6 291.6L1517.5 290.8L1520.4 290L1523.3 289.2L1526.2 288.4L1529.1 287.6L1532 286.8L1534.9 286L1537.8 285.2L1540.7 284.4L1543.6 283.6L1546.5 282.9L1549.4 282.1L1552.3 281.3L1555.2 280.5L1558.1 279.8L1561 279L1563.9 278.3L1566.8 277.5L1569.7 276.8L1572.7 276.1L1575.6 275.4L1578.5 274.7L1581.4 274.1L1584.3 273.4L1587.3 272.8L1590.2 272.2L1593.1 271.6L1596.1 271L1599 270.4L1602 269.9L1604.9 269.4L1607.9 268.9L1610.8 268.4L1613.8 267.9L1616.8 267.5L1619.8 267.1L1622.7 266.7L1625.7 266.4L1628.7 266L1631.7 265.7L1634.7 265.5L1637.7 265.2L1640.7 265L1643.7 264.9L1646.8 264.7L1649.8 264.6L1672 264.6L1699.5 265" fill="none" stroke="#000" stroke-width="4.3" stroke-linejoin="round" stroke-linecap="butt"/>
<path d="M194 1400.8L198.5 1397L215.3 1397.3L218.5 1396.9L221.5 1396.2L224.4 1395.2L227.1 1394.1L229.7 1392.8L232.1 1391.1L234.3 1388.9L236.3 1386.6L238.1 1384.1L239.6 1381.5L240.9 1378.8L241.9 1376L242.8 1373.1L243.5 1370.1L244.1 1367.2L244.7 1364.2L245.2 1361.2L245.6 1358.3L246 1355.3L246.3 1352.3L246.6 1349.2L246.8 1346.2L247 1343.2L247.2 1340.2L247.4 1337.2L247.5 1334.2L247.7 1331.2L247.8 1328.2L248 1325.2L248.2 1322.1L248.4 1319.1L248.7 1316.1L248.9 1313.1L249.2 1310.1L249.5 1307.1L249.9 1304.1L250.3 1301.1L250.8 1298.2L251.1 1295.2L251.5 1292.2L251.8 1289.2L252.1 1286.2L252.5 1283.2L252.8 1280.2L253.1 1277.2L253.4 1274.2L253.7 1271.2L253.9 1268.2L254.2 1265.1L254.4 1262.1L254.6 1259.1L254.7 1256.1L254.9 1253.1L255.1 1250.1L255.2 1247.1L255.4 1244.1L255.6 1241.1L255.8 1238L255.9 1235L256.1 1232L256.3 1229L256.5 1226L256.7 1223L256.9 1220L257.1 1217L257.3 1214L257.5 1210.9L257.7 1207.9L257.9 1204.9L258.2 1201.9L258.5 1198.9L258.8 1195.9L259.2 1192.9L259.5 1189.9L259.9 1186.9L260.4 1184L260.8 1181L261.3 1178L261.7 1175L262.2 1172L263 1169.1L264.1 1166.1L265.6 1163.8L268.1 1161.9L270.8 1160.7L273.7 1160L276.8 1159.5L279.8 1158.9L282.7 1158.1L285.6 1157.3L288.5 1156.5L291.5 1155.9L294.5 1155.5L297.5 1155.1L300.4 1154.5L303.3 1153.7L306.2 1152.7L309 1151.5L311.5 1149.6L313.6 1147.5L315.6 1145.3L317.3 1142.9L318.9 1140.4L320.4 1137.8L321.6 1135.1L322.8 1132.4L323.9 1129.7L324.8 1126.8L325.7 1124L326.5 1121.1L327.2 1118.2L327.8 1115.2L328.4 1112.3L329 1109.3L329.5 1106.3L330 1103.2L330.4 1100.2L330.8 1097.2L331.3 1094.1L331.7 1091.1L332.1 1088.1L332.6 1085.1L333 1082.1L333.5 1079.1L334 1076.1L334.5 1073.1L335 1070.1L335.5 1067.2L336 1064.2L336.6 1061.2L337.1 1058.3L337.7 1055.3L338.2 1052.4L338.8 1049.4L339.3 1046.5L339.9 1043.5L340.5 1040.6L341.1 1037.7L341.6 1034.7L342.2 1031.8L342.8 1028.8L343.4 1025.9L344 1022.9L344.5 1020L345.1 1017L345.7 1014.1L346.3 1011.1L346.8 1008.1L347.4 1005.2L348 1002.2L348.6 999.2L349.2 996.3L349.8 993.3L350.4 990.3L351 987.4L351.7 984.4L352.4 981.5L353 978.5L353.8 975.6L354.5 972.7L355.2 969.8L356 966.8L356.8 963.9L357.6 961L358.4 958.1L359.2 955.2L360.1 952.3L361 949.4L361.8 946.6L362.8 943.7L363.7 940.8L364.6 937.9L365.6 935.1L366.5 932.2L367.5 929.4L368.5 926.6L369.6 923.7L370.6 920.9L371.6 918.1L372.7 915.2L373.8 912.4L374.9 909.6L376 906.8L377.1 904L378.3 901.3L379.4 898.5L380.6 895.7L381.8 892.9L383 890.2L384.2 887.4L385.4 884.6L386.7 881.9L387.9 879.2L389.2 876.4L390.5 873.7L391.8 871L393.1 868.2L394.4 865.5L395.8 862.8L397.1 860.1L398.5 857.4L399.9 854.7L401.3 852.1L402.7 849.4L404.1 846.7L405.5 844L406.9 841.4L408.4 838.7L409.8 836.1L411.3 833.4L412.8 830.8L414.3 828.2L415.8 825.6L417.3 822.9L418.8 820.3L420.4 817.7L421.9 815.1L423.5 812.5L425.1 809.9L426.6 807.4L428.2 804.8L429.8 802.2L431.4 799.6L433 797.1L434.7 794.5L436.3 792L438 789.5L439.6 786.9L441.3 784.4L442.9 781.9L444.6 779.4L446.3 776.9L448 774.3L449.7 771.9L451.4 769.4L453.1 766.9L454.9 764.4L456.6 761.9L458.4 759.5L460.1 757L461.9 754.6L463.6 752.1L465.4 749.7L467.2 747.2L469 744.8L470.7 742.4L472.5 740L474.3 737.6L476.2 735.1L478 732.8L479.8 730.4L481.6 728L483.4 725.6L485.3 723.2L487.1 720.9L489 718.5L490.8 716.1L492.7 713.8L494.5 711.5L496.4 709.1L498.3 706.8L500.4 704.7L502.5 702.5L504.6 700.4L506.7 698.3L508.8 696.1L510.9 694L513 691.8L515.1 689.7L517.2 687.5L519.3 685.4L521.4 683.3L523.6 681.1L525.7 679L527.8 676.8L529.9 674.7L532 672.6L534.1 670.4L536.2 668.3L538.4 666.2L540.5 664L542.6 661.9L544.7 659.8L546.8 657.7L549 655.5L551.1 653.4L553.2 651.3L555.4 649.2L557.5 647L559.6 644.9L561.8 642.8L563.9 640.7L566 638.6L568.2 636.5L570.3 634.4L572.5 632.3L574.6 630.2L576.8 628.1L578.9 626L581.1 623.9L583.3 621.8L585.4 619.7L587.6 617.6L589.7 615.5L591.9 613.5L594.1 611.4L596.3 609.3L598.4 607.3L600.6 605.2L602.8 603.1L605 601.1L607.2 599L609.4 597L611.6 594.9L613.8 592.9L616 590.8L618.2 588.8L620.4 586.8L622.6 584.7L624.8 582.7L627.1 580.7L629.3 578.7L631.5 576.7L633.7 574.7L636 572.7L638.2 570.7L640.5 568.7L642.7 566.7L645 564.7L647.2 562.7L649.5 560.8L651.7 558.8L654 556.8L656.3 554.9L658.5 552.9L660.8 551L663.1 549.1L665.4 547.1L667.7 545.2L670 543.3L672.3 541.3L674.6 539.4L676.9 537.5L679.2 535.6L681.5 533.7L683.8 531.8L686.1 529.9L688.4 528L690.8 526.1L693.1 524.2L695.4 522.3L697.7 520.4L700.1 518.6L702.4 516.7L704.8 514.8L707.1 513L709.5 511.1L711.8 509.2L714.2 507.4L716.5 505.5L718.9 503.7L721.2 501.8L723.6 500L726 498.1L728.3 496.3L730.7 494.5L733.1 492.6L735.5 490.8L737.9 489L740.2 487.2L742.6 485.4L745 483.5L747.4 481.7L749.8 479.9L752.2 478.1L754.6 476.3L757 474.5L759.4 472.7L761.8 470.9L764.2 469.1L766.6 467.3L769 465.5L771.4 463.7L773.9 461.9L776.3 460.1L778.7 458.3L781.1 456.6L783.5 454.8L786 453L788.4 451.2L790.8 449.4L793.2 447.7L795.7 445.9L798.1 444.1L800.5 442.3L803 440.6L805.4 438.8L807.9 437L810.3 435.3L812.7 433.5L815.2 431.7L817.6 430L820.1 428.2L822.5 426.5L825 424.7L827.5 423L829.9 421.2L832.4 419.5L834.8 417.7L837.3 416L839.8 414.3L842.3 412.6L844.7 410.8L847.2 409.1L849.7 407.4L852.2 405.7L854.7 404L857.1 402.3L859.6 400.6L862.1 398.9L864.6 397.2L867.1 395.5L869.6 393.8L872.1 392.2L874.7 390.5L877.2 388.8L879.7 387.2L882.2 385.5L884.7 383.9L887.2 382.3L889.8 380.6L892.3 379L894.8 377.4L897.4 375.8L899.9 374.2L902.5 372.6L905 371L907.6 369.4L910.1 367.8L912.7 366.3L915.3 364.7L917.8 363.2L920.4 361.6L923 360.1L925.6 358.6L928.2 357.1L930.8 355.5L933.4 354L936 352.6L938.6 351.1L941.2 349.6L943.8 348.1L946.4 346.7L949 345.2L951.7 343.8L954.3 342.4L956.9 341L959.6 339.6L962.2 338.2L964.9 336.8L967.5 335.4L970.2 334L972.8 332.7L975.5 331.3L978.2 330L980.9 328.7L983.6 327.4L986.2 326.1L988.9 324.8L991.6 323.5L994.4 322.3L997.1 321L999.8 319.8L1002.5 318.5L1005.2 317.3L1008 316.1L1010.7 314.9L1013.5 313.8L1016.2 312.6L1019 311.4L1021.7 310.3L1024.5 309.2L1027.3 308.1L1030.1 307L1032.8 305.9L1035.6 304.8L1038.4 303.8L1041.2 302.7L1044.1 301.7L1046.9 300.7L1049.7 299.7L1052.5 298.7L1055.4 297.7L1058.2 296.8L1061.1 295.8L1063.9 294.9L1066.8 294L1069.7 293.1L1072.5 292.2L1075.4 291.4L1078.3 290.5L1081.2 289.7L1084.1 288.9L1087 288.1L1089.9 287.3L1092.9 286.5L1095.8 285.8L1098.7 285.1L1101.7 284.4L1104.6 283.7L1107.6 283L1110.6 282.7L1113.6 282.4L1116.6 282.1L1119.6 281.8L1122.6 281.6L1125.6 281.4L1128.6 281.3L1131.6 281.2L1134.6 281.1L1137.6 281L1140.6 280.9L1143.6 280.8L1146.6 280.8L1149.6 280.7L1152.6 280.7L1155.6 280.6L1158.6 280.6L1161.6 280.5L1164.6 280.4L1167.6 280.4L1170.6 280.3L1173.6 280.2L1176.6 280.2L1179.6 280.1L1182.7 280L1185.7 279.9L1188.7 279.9L1191.7 279.8L1194.7 279.7L1197.7 279.7L1200.7 279.6L1203.7 279.5L1206.7 279.4L1209.7 279.4L1212.7 279.3L1215.7 279.2L1218.7 279.2L1221.7 279.1L1224.7 279L1227.7 278.9L1230.7 278.9L1233.7 278.8L1236.7 278.7L1239.7 278.7L1242.8 278.6L1245.8 278.5L1248.8 278.5L1251.8 278.4L1254.8 278.3L1257.8 278.3L1260.8 278.2L1263.8 278.1L1266.8 278L1269.8 278L1272.8 277.9L1275.8 277.8L1278.8 277.8L1281.8 277.7L1284.8 277.6L1287.8 277.6L1290.8 277.5L1293.8 277.4L1296.8 277.4L1299.8 277.3L1302.8 277.2L1305.9 277.2L1308.9 277.1L1311.9 277L1314.9 277L1317.9 276.9L1320.9 276.8L1323.9 276.8L1326.9 276.7L1329.9 276.6L1332.9 276.6L1335.9 276.5L1338.9 276.5L1341.9 276.4L1344.9 276.3L1347.9 276.2L1350.9 276.2L1353.9 276.1L1356.9 276L1359.9 276L1362.9 275.9L1366 275.8L1369 275.8L1372 275.7L1375 275.6L1378 275.5L1381 275.5L1384 275.4L1387 275.3L1390 275.3L1393 275.2L1396 275.1L1399 275L1402 275L1405 274.9L1408 274.8L1411 274.7L1414 274.6L1417 274.6L1420 274.5L1423 274.4L1426 274.3L1429.1 274.3L1432.1 274.2L1435.1 274.1L1438.1 274L1441.1 273.9L1444.1 273.9L1447.1 273.8L1450.1 273.7L1453.1 273.6L1456.1 273.5L1459.1 273.4L1462.1 273.3L1465.1 273.2L1468.1 273.1L1471.1 273L1474.1 272.9L1477.1 272.8L1480.1 272.7L1483.1 272.6L1486.1 272.5L1489.1 272.4L1492.1 272.3L1495.1 272.2L1498.1 272.1L1501.2 272L1504.2 271.9L1507.2 271.8L1510.2 271.8L1513.2 271.7L1516.2 271.6L1519.2 271.5L1522.2 271.5L1525.2 271.4L1528.2 271.3L1531.2 271.3L1534.2 271.2L1537.2 271.2L1540.2 271.1L1543.2 271.1L1546.2 271L1549.2 271L1552.2 271L1555.2 270.9L1558.2 270.9L1561.3 270.8L1564.3 270.8L1567.3 270.8L1570.3 270.7L1573.3 270.7L1576.3 270.7L1579.3 270.6L1582.3 270.6L1585.3 270.6L1588.3 270.5L1591.3 270.5L1594.3 270.4L1597.3 270.4L1600.3 270.4L1603.3 270.3L1606.3 270.3L1609.3 270.2L1612.3 270.2L1615.4 270.1L1618.4 270.1L1621.4 270L1624.4 269.9L1627.4 269.9L1630.4 269.8L1633.4 269.7L1636.4 269.7L1639.4 269.6L1642.4 269.5L1645.4 269.5L1648.4 269.4L1651.4 269.4L1654.4 269.4L1657.4 269.3L1660.4 269.3L1663.4 269.3L1666.4 269.2L1669.4 269.2L1672.4 269.2L1675.5 269.1L1678.5 269.1L1681.5 269.1L1684.5 269.1L1687.5 269.1L1690.5 269L1693.5 269L1696.5 269L1699.5 269" fill="none" stroke="#000" stroke-width="4.3" stroke-linejoin="round" stroke-linecap="butt"/>
<path d="M194 1400.8L198.5 1396L212 1396.3L215.2 1396.1L218.3 1395.5L221.2 1394.7L224 1393.8L226.6 1392.7L229.2 1391.1L231.5 1389L233.7 1386.8L235.6 1384.5L237.4 1382L238.8 1379.4L239.9 1376.5L240.8 1373.6L241.5 1370.7L242.2 1367.7L242.8 1364.8L243.3 1361.8L243.7 1358.8L244 1355.8L244.3 1352.7L244.6 1349.7L244.8 1346.7L245 1343.7L245.1 1340.7L245.3 1337.6L245.4 1334.6L245.6 1331.6L245.7 1328.6L245.9 1325.5L246.1 1322.5L246.3 1319.5L246.6 1316.5L246.8 1313.5L247.2 1310.4L247.5 1307.4L248 1304.4L248.5 1301.5L249 1298.5L249.4 1295.5L249.8 1292.5L250.2 1289.5L250.6 1286.5L251 1283.5L251.3 1280.5L251.7 1277.5L252 1274.4L252.4 1271.4L252.7 1268.4L253 1265.4L253.2 1262.4L253.4 1259.4L253.6 1256.3L253.8 1253.3L254 1250.3L254.2 1247.3L254.3 1244.3L254.5 1241.2L254.7 1238.2L254.9 1235.2L255.1 1232.2L255.3 1229.1L255.5 1226.1L255.7 1223.1L255.9 1220.1L256.1 1217.1L256.3 1214L256.5 1211L256.7 1208L257 1205L257.3 1202L257.6 1199L258 1195.9L258.4 1192.9L258.8 1189.9L259.3 1187L259.7 1184L260.3 1181L260.8 1178L261.2 1174.9L261.8 1171.9L262.6 1168.8L263.6 1165.9L265.3 1163.3L267.5 1161.1L270 1159.2L309.5 1151.6L311.9 1149.7L313.9 1147.4L315.7 1145.1L317.2 1142.5L318.6 1139.9L319.7 1137.2L320.8 1134.5L321.7 1131.6L322.5 1128.8L323.3 1125.9L323.9 1123L324.6 1120.1L325.1 1117.1L325.7 1114.2L326.1 1111.2L326.5 1108.3L326.9 1105.3L327.3 1102.3L327.6 1099.3L327.8 1096.3L328.1 1093.3L328.3 1090.3L328.5 1087.2L328.7 1084.2L328.8 1081.2L329 1078.2L329.1 1075.1L329.2 1072.1L329.4 1069.1L329.5 1066.1L329.7 1063L329.8 1060L330 1057L330.1 1054L330.3 1051L330.5 1048L330.7 1045L330.9 1042L331.1 1039L331.3 1036L331.6 1033L331.8 1030L332 1027L332.3 1024L332.5 1021L332.8 1018L333 1015.1L333.3 1012.1L333.6 1009.1L333.9 1006.1L334.1 1003.1L334.4 1000.2L334.7 997.2L335 994.2L335.3 991.2L335.6 988.3L335.9 985.3L336.2 982.3L336.5 979.3L336.8 976.3L337.1 973.4L337.4 970.4L337.7 967.4L338 964.4L338.3 961.4L338.6 958.4L338.9 955.4L339.1 952.4L339.4 949.4L339.8 946.4L340.1 943.4L340.4 940.4L340.7 937.4L341 934.4L341.4 931.4L341.7 928.4L342.1 925.5L342.5 922.5L342.9 919.5L343.4 916.5L343.8 913.5L344.3 910.6L344.8 907.6L345.3 904.6L345.9 901.7L346.5 898.7L347.1 895.8L347.7 892.9L348.3 889.9L349 887L349.7 884.1L350.4 881.2L351.1 878.3L351.9 875.3L352.6 872.4L353.4 869.5L354.2 866.6L354.9 863.7L355.7 860.8L356.5 857.9L357.3 855L358.1 852.2L359 849.3L359.8 846.4L360.6 843.5L361.4 840.6L362.2 837.7L363 834.8L363.8 831.9L364.7 829L365.5 826.1L366.3 823.2L367.2 820.3L368 817.5L368.9 814.6L369.7 811.7L370.6 808.8L371.4 805.9L372.3 803.1L373.1 800.2L374 797.3L374.9 794.4L375.8 791.6L376.7 788.7L377.6 785.8L378.5 783L379.4 780.1L380.3 777.2L381.2 774.4L382.2 771.5L383.1 768.7L384 765.8L385 763L386 760.1L386.9 757.3L387.9 754.5L388.9 751.6L389.9 748.8L390.9 746L391.9 743.1L392.9 740.3L394 737.5L395 734.7L396 731.9L397.1 729.1L398.2 726.3L399.3 723.5L400.3 720.7L401.5 717.9L402.6 715.1L403.7 712.3L404.8 709.5L406 706.7L407.1 704L408.3 701.2L409.5 698.4L410.6 695.7L411.8 692.9L413 690.2L414.2 687.4L415.5 684.7L416.7 681.9L417.9 679.2L419.2 676.5L420.4 673.7L421.7 671L423 668.3L424.3 665.6L425.6 662.9L426.9 660.2L428.2 657.4L429.5 654.7L430.8 652L432.1 649.3L433.5 646.6L434.8 644L436.2 641.3L437.5 638.6L438.9 635.9L440.3 633.2L441.6 630.6L443 627.9L444.4 625.2L445.8 622.5L447.2 619.9L448.7 617.2L450.1 614.6L451.5 611.9L452.9 609.3L454.4 606.6L455.8 604L457.3 601.3L458.7 598.7L460.2 596.1L461.6 593.4L463.1 590.8L464.6 588.2L466 585.6L467.5 582.9L469 580.3L470.5 577.7L472 575.1L473.5 572.5L475 569.9L476.5 567.3L478 564.7L479.5 562.1L481.1 559.5L482.6 556.9L484.1 554.3L485.6 551.7L487.2 549.1L488.7 546.5L490.2 543.9L491.8 541.3L493.3 538.8L494.9 536.2L496.4 533.6L498 531.1L499.5 528.5L501.1 525.9L502.7 523.4L504.3 520.8L505.8 518.2L507.4 515.7L509 513.1L510.6 510.6L512.2 508.1L513.8 505.5L515.4 503L517 500.4L518.6 497.9L520.2 495.4L521.8 492.8L523.4 490.3L525 487.8L526.7 485.3L528.3 482.8L529.9 480.2L531.6 477.7L533.2 475.2L534.9 472.7L536.5 470.2L538.2 467.7L539.9 465.2L541.5 462.7L543.2 460.2L544.9 457.8L546.5 455.3L548.2 452.8L549.9 450.3L551.6 447.9L553.3 445.4L555 442.9L556.7 440.4L558.4 438L560.2 435.5L561.9 433.1L563.6 430.6L565.3 428.2L567.1 425.7L568.8 423.3L570.6 420.9L572.3 418.4L574.1 416L575.8 413.6L577.6 411.1L579.4 408.7L581.1 406.3L582.9 403.9L584.7 401.5L586.5 399.1L588.3 396.7L590.1 394.3L591.9 391.9L593.7 389.5L595.5 387.1L597.4 384.7L599.2 382.3L601 380L602.9 377.6L604.7 375.2L606.6 372.8L608.4 370.5L610.3 368.1L612.2 365.8L614 363.4L615.9 361.1L617.8 358.7L619.7 356.4L621.6 354.1L623.5 351.7L625.4 349.4L627.3 347.1L629.2 344.7L631.1 342.4L633.1 340.1L635 337.8L637 335.5L638.9 333.2L669.3 300.7L671.7 298.9L674.1 297.1L676.5 295.3L679 293.4L681.4 291.6L683.7 289.7L686.1 287.8L688.5 285.9L690.9 284.1L693.3 282.3L695.8 280.7L698.4 279.1L701 277.6L703.7 276.2L706.5 275L709.3 273.9L712.1 272.9L715 271.9L718 271.1L720.9 270.4L723.8 269.9L726.8 269.4L729.8 268.9L732.8 268.5L735.8 268.3L738.9 268.2L741.9 268.1L744.9 268L747.9 268L750.9 268L753.9 267.9L757 267.9L760 267.9L900 267.8L1132.4 267.9" fill="none" stroke="#000" stroke-width="4.3" stroke-linejoin="round" stroke-linecap="butt"/>
<line x1="192.4" y1="203.20" x2="1701.1" y2="203.20" stroke="#000" stroke-width="4.6" stroke-dasharray="17.2 8.49"/>
<line x1="192.4" y1="1160.02" x2="1701.1" y2="1160.02" stroke="#000" stroke-width="4.6" stroke-dasharray="17.2 8.49"/>
<g font-family="'Liberation Serif','Times New Roman',serif" font-size="53" letter-spacing="-0.7" fill="#000">
<text x="170.5" y="1412.8" text-anchor="end">0</text>
<text x="170.5" y="1187.4" text-anchor="end">10</text>
<text x="170.5" y="962.0" text-anchor="end">20</text>
<text x="170.5" y="736.6" text-anchor="end">30</text>
<text x="170.5" y="511.2" text-anchor="end">40</text>
<text x="170.5" y="285.8" text-anchor="end">50</text>
<text x="170.5" y="60.4" text-anchor="end">60</text>
<text x="182.5" y="1459">0</text>
<text x="537.5" y="1459">300</text>
<text x="914.5" y="1459">600</text>
<text x="1292.2" y="1459">900</text>
<text x="1658.8" y="1459">1200</text>
</g>
<text x="948" y="1538.5" text-anchor="middle" font-family="'Liberation Serif','Times New Roman',serif" font-size="59.6" font-weight="bold">Time, minutes</text>
<text transform="translate(70.5,722.6) rotate(-90)" text-anchor="middle" font-family="'Liberation Serif','Times New Roman',serif" font-size="60.3" font-weight="bold">Mass loss, %</text>
<g font-family="'Liberation Serif','Times New Roman',serif" font-size="53" font-weight="bold" letter-spacing="-0.5" fill="#000">
<text x="397.5" y="374.5">575 °C</text>
<text x="768.3" y="374.5">560</text>
<text x="1088.5" y="384">545</text>
<text x="1088.5" y="589">530</text>
<text x="1088.5" y="764.3">515</text>
<text x="1088.5" y="1010">500 °C</text>
</g>
<text y="167.5" font-family="'Liberation Serif','Times New Roman',serif" font-size="53" font-weight="bold" font-style="italic" letter-spacing="-0.9" fill="#000"><tspan x="769" dy="0">FeSO</tspan><tspan x="892" dy="13" font-size="42">4</tspan><tspan x="990" dy="-13">Fe</tspan><tspan x="1047.5" dy="13" font-size="42">2</tspan><tspan x="1070" dy="-13">O</tspan><tspan x="1106" dy="13" font-size="42">3</tspan></text><text transform="translate(909.5,164.2) scale(1.53,1.2)" font-family="'Liberation Serif','Times New Roman',serif" font-size="53" fill="#000">→</text>
<text y="1132.3" font-family="'Liberation Serif','Times New Roman',serif" font-size="53" font-weight="bold" font-style="italic" letter-spacing="-0.9" fill="#000"><tspan x="769" dy="0">FeSO</tspan><tspan x="892" dy="13" font-size="42">4</tspan><tspan x="911" dy="-13">·</tspan><tspan x="922" dy="0">H</tspan><tspan x="965" dy="13" font-size="42">2</tspan><tspan x="988.5" dy="-13">O</tspan><tspan x="1102" dy="0">FeSO</tspan><tspan x="1225" dy="13" font-size="42">4</tspan></text><text transform="translate(1021.4,1129.0) scale(1.53,1.2)" font-family="'Liberation Serif','Times New Roman',serif" font-size="53" fill="#000">→</text>
<text font-family="'Liberation Sans',Arial,sans-serif" font-size="60.2" font-weight="bold" fill="#000"><tspan x="1313" y="1253.2">IND sample</tspan><tspan x="1347.5" y="1335.5">under N</tspan><tspan x="1578.3" dy="13.5" font-size="52.5">2</tspan></text>
</svg>
</body>
</html>
